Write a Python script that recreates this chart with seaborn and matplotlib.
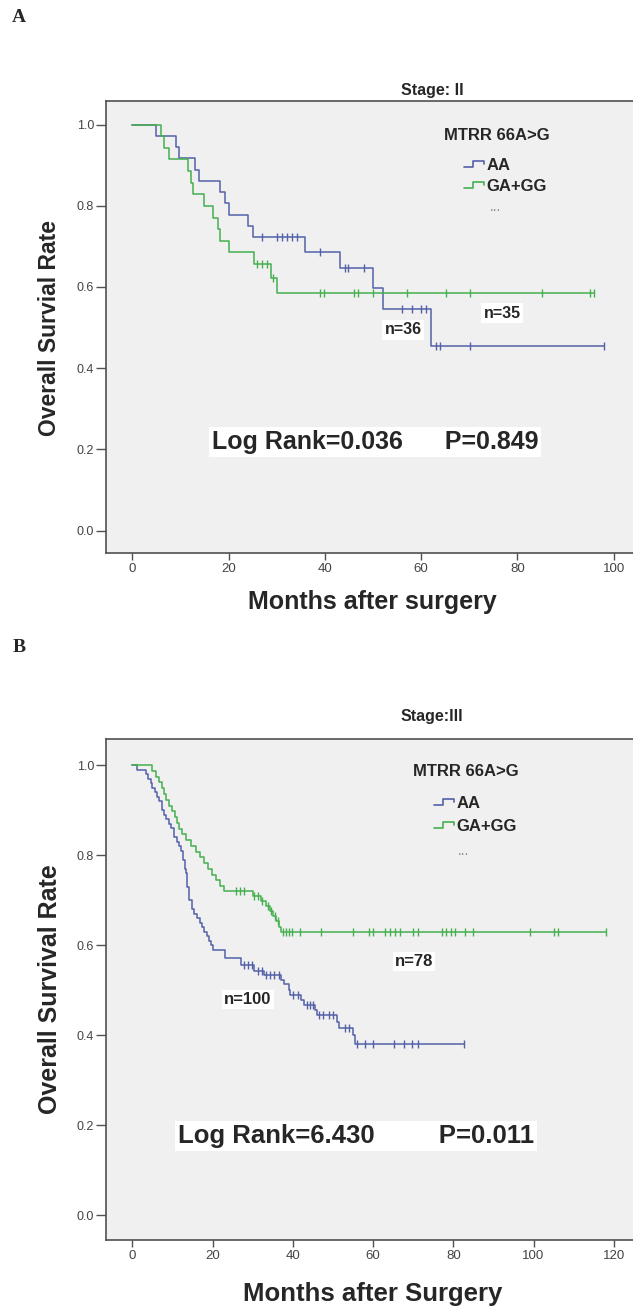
import numpy as np
import pandas as pd
import matplotlib
matplotlib.use('Agg')
import matplotlib.pyplot as plt
import seaborn as sns
from matplotlib.lines import Line2D
from matplotlib.legend_handler import HandlerBase

# ---- data ----
# Stage II : step times (months) and survival level after each step, censor times
a_aa_t = [5.0, 9.1, 9.8, 13.0, 13.8, 18.2, 19.2, 20.0, 24.1, 25.1, 35.9, 43.1, 50.0, 52.1, 62.0]
a_aa_s = [0.972, 0.944, 0.917, 0.889, 0.861, 0.833, 0.806, 0.778, 0.750, 0.722, 0.686, 0.648, 0.597, 0.545, 0.455]
a_aa_c = [27.0, 30.1, 31.1, 32.1, 33.2, 34.2, 39.0, 44.2, 44.9, 48.2, 56.0, 58.2, 59.9, 61.0,
          63.1, 63.9, 70.1, 98.0]

a_gg_t = [6.0, 6.5, 7.7, 11.5, 12.1, 12.6, 14.8, 16.8, 17.9, 18.2, 20.1, 25.2, 28.9, 30.0]
a_gg_s = [0.971, 0.943, 0.914, 0.886, 0.857, 0.829, 0.800, 0.771, 0.743, 0.714, 0.686, 0.657, 0.621, 0.586]
a_gg_c = [26.0, 26.9, 27.9, 29.3, 39.0, 39.8, 46.1, 46.9, 50.0, 57.0, 65.1, 70.1, 85.2, 95.1, 95.9]

# Stage III
b_aa_t = [1.2, 3.4, 4.0, 4.6, 5.0, 5.6, 6.2, 6.7, 7.3, 7.9, 8.5, 9.1, 9.7, 10.4, 11.0, 11.6,
          12.2, 12.7, 13.1, 13.3, 13.6, 14.0, 14.8, 15.4, 16.1, 16.9, 17.4, 17.8, 18.5, 19.0,
          19.6, 20.2, 23.0, 27.0, 30.4, 32.8, 37.0, 37.8, 39.0, 39.3, 42.0, 42.7, 45.5, 46.0,
          51.1, 51.5, 55.0, 55.4]
b_aa_s = [0.99, 0.98, 0.97, 0.96, 0.95, 0.94, 0.93, 0.92, 0.90, 0.89, 0.88, 0.87, 0.86, 0.84,
          0.83, 0.82, 0.81, 0.79, 0.77, 0.76, 0.73, 0.70, 0.68, 0.67, 0.66, 0.65, 0.64, 0.63,
          0.62, 0.61, 0.60, 0.59, 0.572, 0.555, 0.543, 0.533, 0.522, 0.513, 0.50, 0.489, 0.478,
          0.467, 0.455, 0.445, 0.43, 0.417, 0.40, 0.38]
b_aa_c = [27.7, 28.9, 29.7, 31.4, 32.2, 33.4, 34.4, 35.4, 36.5, 40.0, 41.3, 43.5, 44.3, 45.0,
          46.5, 47.5, 49.0, 50.0, 53.0, 54.0, 56.1, 58.1, 60.1, 65.2, 67.7, 69.7, 71.2, 82.6]

b_gg_t = [5.0, 6.0, 6.7, 7.3, 7.8, 8.5, 9.1, 9.8, 10.5, 11.0, 11.5, 12.3, 13.3, 14.5, 15.8,
          16.8, 17.8, 18.8, 19.8, 20.8, 21.9, 22.9, 30.0, 32.0, 33.2, 34.2, 35.0, 35.9, 36.6, 37.0]
b_gg_s = [0.987, 0.974, 0.962, 0.949, 0.936, 0.923, 0.910, 0.897, 0.885, 0.872, 0.859, 0.846,
          0.833, 0.821, 0.808, 0.795, 0.782, 0.769, 0.756, 0.744, 0.731, 0.720, 0.709, 0.699,
          0.688, 0.677, 0.665, 0.653, 0.641, 0.629]
b_gg_c = [25.9, 26.9, 27.9, 30.4, 31.4, 32.4, 33.9, 34.6, 35.5, 36.3, 37.5, 38.3, 39.0, 39.8,
          41.8, 47.0, 55.1, 59.0, 60.0, 63.0, 64.3, 65.5, 66.8, 70.0, 71.1, 77.1, 78.3, 79.5,
          80.4, 82.9, 85.0, 99.1, 105.0, 106.0, 118.0]

groups = ['AA', 'GA+GG']
BLUE = '#5361A9'
GREEN = '#45B04F'

sns.set_style('ticks')
plt.rcParams['font.family'] = ['Liberation Sans', 'DejaVu Sans']

W, H = 633, 1308


def fx(x):
    return x / W


def fy(y):
    return 1 - y / H


def km_frame(times, levels, censors):
    t = [0.0] + list(times) + [max(censors)]
    s = [1.0] + list(levels) + [levels[-1]]
    return pd.DataFrame({'month': t, 'surv': s})


def censor_frame(times, levels, censors):
    idx = np.searchsorted(times, censors, side='right')
    lv = np.concatenate([[1.0], levels])[idx]
    return pd.DataFrame({'month': censors, 'surv': lv})


class StepHandler(HandlerBase):
    # little step glyph like the SPSS legend
    def create_artists(self, legend, orig_handle, xdescent, ydescent,
                       width, height, fontsize, trans):
        x0, y0 = -xdescent, -ydescent
        xs = [x0, x0 + 0.45 * width, x0 + 0.45 * width, x0 + width, x0 + width]
        ys = [y0 + 0.3 * height, y0 + 0.3 * height, y0 + 0.75 * height,
              y0 + 0.75 * height, y0 + 0.5 * height]
        ln = Line2D(xs, ys, color=orig_handle.get_color(), lw=1.2)
        ln.set_transform(trans)
        return [ln]


fig = plt.figure(figsize=(W / 100, H / 100), dpi=100)
axA = fig.add_axes([fx(105.8), fy(553), fx(633 - 105.8), (553 - 101) / H])
axB = fig.add_axes([fx(105.8), fy(1240), fx(633 - 105.8), (1240 - 739) / H])

panels = [
    (axA, [(a_aa_t, a_aa_s, a_aa_c), (a_gg_t, a_gg_s, a_gg_c)], (-5.5, 104.0), [0, 20, 40, 60, 80, 100]),
    (axB, [(b_aa_t, b_aa_s, b_aa_c), (b_gg_t, b_gg_s, b_gg_c)], (-6.63, 124.8), [0, 20, 40, 60, 80, 100, 120]),
]

for ax, curves, xlim, xt in panels:
    ax.set_facecolor('#F0F0F0')
    for (t, s, c), col in zip(curves, [BLUE, GREEN]):
        sns.lineplot(data=km_frame(t, s, c), x='month', y='surv', drawstyle='steps-post',
                     color=col, lw=1.1, estimator=None, sort=False, ax=ax)
        sns.scatterplot(data=censor_frame(t, s, c), x='month', y='surv', marker='|',
                        s=30, color=col, linewidth=1.0, ax=ax)
    ax.set_xlim(*xlim)
    ax.set_ylim(-0.055, 1.058)
    ax.set_xticks(xt)
    ax.set_yticks([0, 0.2, 0.4, 0.6, 0.8, 1.0])
    ax.set_yticklabels(['0.0', '0.2', '0.4', '0.6', '0.8', '1.0'])
    ax.set_xlabel('')
    ax.set_ylabel('')
    for sp in ['left', 'bottom', 'top']:
        ax.spines[sp].set_color('#505050')
        ax.spines[sp].set_linewidth(1.2)
    ax.spines['right'].set_visible(False)
    ax.tick_params(axis='y', direction='out', length=7, width=1, color='#505050',
                   labelsize=9, labelcolor='#444444', pad=1.5)
    ax.tick_params(axis='x', direction='out', length=5, width=1, color='#505050',
                   labelsize=9.5, labelcolor='#444444', pad=2.5)

    hs = [Line2D([], [], color=BLUE), Line2D([], [], color=GREEN)]
    ax._km_handles = hs

bold = dict(weight='bold')

# panel letters
fig.text(fx(19), fy(18), 'A', family='Liberation Serif', size=14, ha='center', va='center', **bold)
fig.text(fx(19), fy(648), 'B', family='Liberation Serif', size=14, ha='center', va='center', **bold)

# stage titles
fig.text(fx(432), fy(90), 'Stage: II', size=11.5, ha='center', va='center', **bold)
fig.text(fx(432), fy(716), 'Stage:III', size=11.5, ha='center', va='center', **bold)

# axis labels
fig.text(fx(50), fy(328), 'Overall Survial Rate', size=16.5, rotation=90, ha='center', va='center', **bold)
fig.text(fx(50), fy(989), 'Overall Survival Rate', size=18, rotation=90, ha='center', va='center', **bold)
fig.text(fx(372), fy(602), 'Months after surgery', size=18, ha='center', va='center', **bold)
fig.text(fx(373), fy(1294), 'Months after Surgery', size=18.5, ha='center', va='center', **bold)

# legends
for ax, tx, ty, lx, ly, dx, dy, sp in [(axA, 550, 136, 464, 158, 495, 207, 0.36),
                                       (axB, 519, 771, 434, 796, 463, 851, 0.49)]:
    fig.text(fx(tx), fy(ty), 'MTRR 66A>G', size=12, ha='right', va='center', **bold)
    leg = ax.legend(ax._km_handles, groups, loc='upper left',
                    bbox_to_anchor=(fx(lx), fy(ly)), bbox_transform=fig.transFigure,
                    frameon=False, handlelength=1.2, handletextpad=0.15,
                    labelspacing=sp, borderpad=0, borderaxespad=0,
                    prop=dict(family='Liberation Sans', weight='bold', size=12),
                    handler_map={h: StepHandler() for h in ax._km_handles})
    fig.text(fx(dx), fy(dy), '...', size=10, color='#8A8A8A', ha='center', va='center')

# annotations
box = dict(facecolor='white', edgecolor='none', pad=1.5)
fig.text(fx(403), fy(330), 'n=36', size=11.5, ha='center', va='center', bbox=box, **bold)
fig.text(fx(502), fy(313), 'n=35', size=11.5, ha='center', va='center', bbox=box, **bold)
fig.text(fx(414), fy(961), 'n=78', size=12, ha='center', va='center', bbox=box, **bold)
fig.text(fx(248), fy(999), 'n=100', size=12, ha='center', va='center', bbox=box, **bold)

fig.text(fx(212), fy(442), 'Log Rank=0.036      P=0.849', size=18, ha='left', va='center',
         bbox=dict(facecolor='white', edgecolor='none', pad=2), **bold)
fig.text(fx(178), fy(1136), 'Log Rank=6.430         P=0.011', size=18.5, ha='left', va='center',
         bbox=dict(facecolor='white', edgecolor='none', pad=2), **bold)

fig.savefig('out.png', dpi=100)
